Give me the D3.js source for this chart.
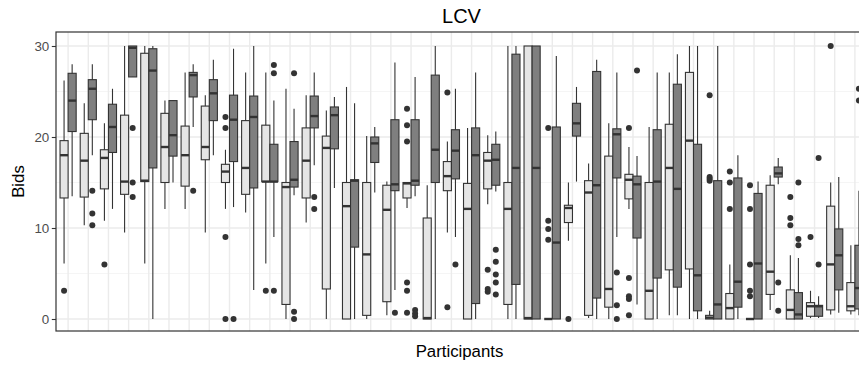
<!DOCTYPE html>
<html><head><meta charset="utf-8">
<script src="https://cdn.jsdelivr.net/npm/d3@7"></script>
<style>
body{margin:0;background:#fff;overflow:hidden}
text{font-family:"Liberation Sans",Arial,sans-serif}
</style>
</head><body>
<svg id="chart" width="859" height="366"></svg>
<script>
const participants = ["P1","P2","P3","P4","P5","P6","P7","P8","P9","P10",
  "P11","P12","P13","P14","P15","P16","P17","P18","P19","P20",
  "P21","P22","P23","P24","P25","P26","P27","P28","P29","P30",
  "P31","P32","P33","P34","P35","P36","P37","P38","P39","P40"];
const groups = ["Group 1","Group 2"];
const yTicks = [0,10,20,30];
const yMinor = [5,15,25];

// [lower whisker, Q1, median, Q3, upper whisker]
const lightStats = [
  [6.1,13.3,18.0,19.6,26.2],[10.3,13.4,17.4,20.4,23.7],[10.8,14.3,17.7,18.6,21.5],[9.5,13.7,15.1,22.4,30],
  [6.1,15.1,15.2,29.2,30],[12.1,15.0,18.9,22.6,24.0],[12.1,14.6,18.0,21.2,27.1],[9.5,17.5,18.9,23.4,24.6],
  [12.1,15.0,16.2,17.0,18.6],[11.7,13.7,16.6,21.8,27.1],[6.1,15.1,15.1,21.3,27.1],[0,1.6,14.5,15.0,25.3],
  [10.6,13.3,17.4,21.0,24.6],[0,3.3,18.8,20.1,22.9],[0,0,12.4,15.0,25.5],[0,0.4,7.1,15.0,20.1],
  [0.4,1.9,12.0,14.7,15.1],[12.2,13.3,14.9,15.0,15.0],[0,0,0.1,11.1,14.7],[9.5,14.1,15.7,17.3,19.5],
  [0,0,12.1,14.9,21.0],[12.6,14.3,17.4,18.3,20.2],[0,1.6,12.1,15.0,30],[0,0,0.1,30,30],
  [0,0,0,0,0],[8.6,10.6,12.2,12.5,15.0],[0.1,0.4,13.9,15.2,17.1],[0,1.3,3.3,17.9,21.5],
  [12.1,13.2,15.3,15.9,18.9],[0,0,3.1,15.0,21.1],[0.4,5.4,16.6,21.4,27.1],[0,5.5,19.6,27.1,30],
  [0,0,0.15,0.4,0.9],[0,0,1.2,2.8,6.0],[0,0,0,0,0],[1.0,2.7,5.2,14.7,15.8],
  [0,0,1.0,3.2,7.0],[0.1,0.3,1.4,1.8,3.1],[0.5,1.0,6.0,12.4,15.0],[0.5,0.9,1.4,4.0,8.1]
];
const darkStats = [
  [13.5,20.6,24.0,27.0,28.0],[18.0,21.9,25.3,26.3,28.0],[12.1,18.3,21.1,23.6,25.3],[26.6,26.6,29.8,30,30],
  [0,16.6,27.3,29.7,30],[15.0,17.9,20.2,24.0,24.0],[21.1,24.4,26.8,27.1,28.0],[18.0,21.8,24.8,26.3,28.5],
  [12.3,17.3,21.9,24.6,29.7],[3.2,14.4,22.2,24.5,30],[9.0,15.1,15.1,19.2,24.0],[13.6,14.5,15.3,19.5,23.1],
  [16.9,21.0,22.3,24.5,27.1],[14.4,18.7,22.4,23.3,24.4],[0,7.9,15.2,15.3,23.7],[13.9,17.2,19.3,20.0,21.1],
  [3.2,14.1,14.8,21.9,28.2],[13.5,14.7,15.2,21.9,26.6],[0,15.0,18.6,26.8,30],[9.0,15.4,18.5,20.8,25.3],
  [0,1.7,18.0,21.0,27.1],[14.0,14.7,17.5,19.2,20.6],[0,3.8,16.6,29.1,30],[0,0,16.6,30,30],
  [0,0,8.4,21.1,28.9],[15.1,20.1,21.5,23.7,25.5],[0,2.3,14.7,27.2,28.5],[9.0,15.5,20.3,20.9,27.1],
  [1.6,8.9,14.8,15.7,17.9],[0,4.5,15.1,20.8,27.1],[0.4,3.5,14.3,25.8,29.1],[0,0.9,4.8,19.2,30],
  [0,0,1.6,15.2,30],[0,1.3,4.1,15.5,18.0],[0,0,6.1,13.8,15.1],[14.8,15.6,16.0,16.7,17.7],
  [0,0,0.5,2.9,6.7],[0.1,0.3,1.4,1.5,2.5],[0.7,3.2,7.0,9.9,15.6],[0.4,1.1,3.4,8.1,14.1]
];
const lightOutliers = [
  [3.1],[],[6.0],[],[],[],[],[],[22.2,21.0,9.0,0],[],
  [3.1],[],[],[],[],[],[],[23.1,21.3,19.5,4.0,3.1,0.7],[],[24.9,1.3],
  [],[5.4,3.3,3.0],[],[],[21.0,10.8,9.9,8.7],[0],[],[],[21.0,4.5,2.5,2.2,0.4],[],
  [],[],[24.6,15.6,15.4,15.2],[16.2,15.0,12.1],[14.7,12.1,6.0,3.1,2.5],[],[13.4,11.1,10.3],[9.0],[30],[]
];
const darkOutliers = [
  [],[14.1,11.6,10.3],[],[21.0,15.0,13.4],[],[],[14.1],[],[0],[],
  [27.9,27.0,3.1],[27.0,0.8,0],[13.4,12.1],[],[],[],[0.7],[1.0,0.6,0.3],[],[6.0],
  [],[7.6,6.3,4.9,4.0,2.7],[],[],[],[],[],[5.1,1.5,0],[27.3],[],
  [],[],[],[],[],[4.0,0.9],[15.0,8.8,8.1],[17.7,6.0],[],[25.3,24.0]
];
const fills = ["#E5E5E5","#7F7F7F"];

const svg = d3.select("#chart");
const panel = {left:56, top:32, right:867, bottom:331};

const x = d3.scalePoint().domain(participants).range([panel.left, panel.right]).padding(0.6);
const boxW = x.step()*0.8;
const xg = d3.scaleBand().domain(groups).range([-boxW/2, boxW/2]);
const y = d3.scaleLinear().domain([0,30]).range([319,46]);

svg.append("rect").attr("x",panel.left).attr("y",panel.top)
  .attr("width",panel.right-panel.left).attr("height",panel.bottom-panel.top).attr("fill","#fff");

// grid
const grid = svg.append("g");
grid.selectAll(".minor").data(yMinor).join("line")
  .attr("x1",panel.left).attr("x2",panel.right).attr("y1",d=>y(d)).attr("y2",d=>y(d))
  .attr("stroke","#F2F2F2").attr("stroke-width",0.8);
grid.selectAll(".majorY").data(yTicks).join("line")
  .attr("x1",panel.left).attr("x2",panel.right).attr("y1",d=>y(d)).attr("y2",d=>y(d))
  .attr("stroke","#EBEBEB").attr("stroke-width",1.4);
grid.selectAll(".majorX").data(participants).join("line")
  .attr("x1",d=>x(d)).attr("x2",d=>x(d)).attr("y1",panel.top).attr("y2",panel.bottom)
  .attr("stroke","#EBEBEB").attr("stroke-width",1.4);

// boxes
const boxes = [];
participants.forEach((p,i)=>{
  boxes.push({p, g:groups[0], s:lightStats[i], o:lightOutliers[i], fill:fills[0]});
  boxes.push({p, g:groups[1], s:darkStats[i], o:darkOutliers[i], fill:fills[1]});
});
const bw = xg.bandwidth();
const bg = svg.append("g").selectAll("g").data(boxes).join("g")
  .attr("transform",d=>`translate(${x(d.p)+xg(d.g)},0)`);
bg.append("line").attr("x1",bw/2).attr("x2",bw/2)
  .attr("y1",d=>y(d.s[0])).attr("y2",d=>y(d.s[4]))
  .attr("stroke","#333").attr("stroke-width",1.1);
bg.append("rect").attr("x",0).attr("width",bw)
  .attr("y",d=>y(d.s[3])).attr("height",d=>y(d.s[1])-y(d.s[3]))
  .attr("fill",d=>d.fill).attr("stroke","#333").attr("stroke-width",1.1);
bg.append("line").attr("x1",0).attr("x2",bw)
  .attr("y1",d=>y(d.s[2])).attr("y2",d=>y(d.s[2]))
  .attr("stroke","#333").attr("stroke-width",2.4);
bg.selectAll("circle").data(d=>d.o).join("circle")
  .attr("cx",bw/2).attr("cy",v=>y(v)).attr("r",3).attr("fill","#333");

// border
svg.append("rect").attr("x",panel.left).attr("y",panel.top)
  .attr("width",panel.right-panel.left).attr("height",panel.bottom-panel.top)
  .attr("fill","none").attr("stroke","#333").attr("stroke-width",1.2);

// y axis
const ya = svg.append("g").attr("transform",`translate(${panel.left},0)`)
  .call(d3.axisLeft(y).tickValues(yTicks).tickSize(4.2).tickPadding(2.5));
ya.select(".domain").remove();
ya.selectAll(".tick line").attr("stroke","#333").attr("stroke-width",1.1);
ya.selectAll(".tick text").attr("fill","#4D4D4D").style("font-size","13.4px")
  .style("font-family","'Liberation Sans',Arial,sans-serif");

const cx = (panel.left+panel.right)/2;
svg.append("text").attr("x",cx).attr("y",22.5).attr("text-anchor","middle")
  .style("font-size","20px").attr("fill","#000").text("LCV");
svg.append("text").attr("x",cx-2).attr("y",357).attr("text-anchor","middle")
  .style("font-size","16.8px").attr("fill","#000").text("Participants");
svg.append("text").attr("transform",`translate(24,${(panel.top+panel.bottom)/2}) rotate(-90)`)
  .attr("text-anchor","middle").style("font-size","16.8px").attr("fill","#000").text("Bids");
</script>
</body></html>
